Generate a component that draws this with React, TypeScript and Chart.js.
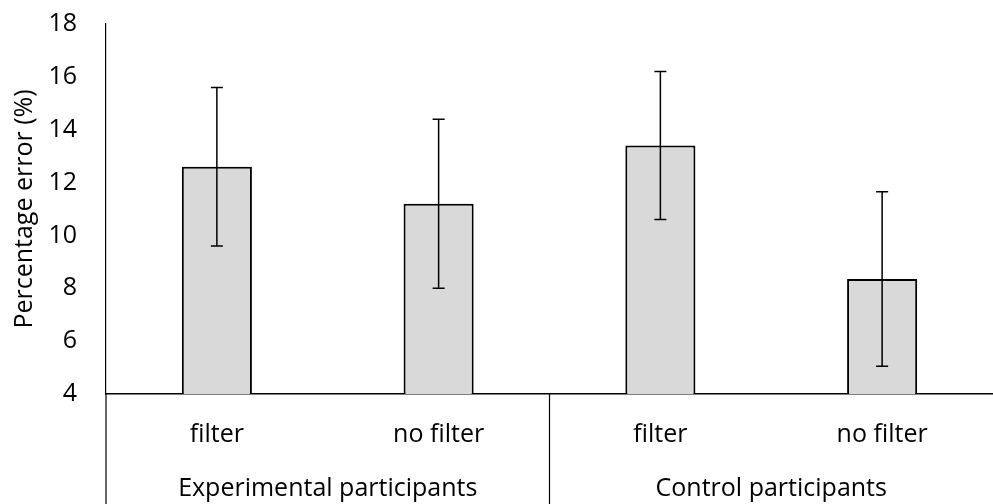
import React, { useEffect, useRef } from "react";
import { Chart, registerables } from "chart.js";

Chart.register(...registerables);

const categories = ["filter", "no filter", "filter", "no filter"];
const groups = ["Experimental participants", "Control participants"];
const groupSizes = [2, 2];
const meanValues = [12.6, 11.2, 13.4, 8.35];
const errorValues = [3.0, 3.2, 2.8, 3.3];
const yTicks = [4, 6, 8, 10, 12, 14, 16, 18];

const FONT = "'Open Sans', Lato, sans-serif";
const FONT_SIZE = 25;

const errorBarPlugin = {
  id: "errorBars",
  afterDatasetsDraw(chart: any) {
    const { ctx } = chart;
    const meta = chart.getDatasetMeta(0);
    const y = chart.scales.y;
    ctx.save();
    ctx.strokeStyle = "#000";
    ctx.lineWidth = 1.5;
    meta.data.forEach((bar: any, i: number) => {
      const x = bar.x;
      const top = y.getPixelForValue(meanValues[i] + errorValues[i]);
      const bot = y.getPixelForValue(meanValues[i] - errorValues[i]);
      ctx.beginPath();
      ctx.moveTo(x, top);
      ctx.lineTo(x, bot);
      ctx.moveTo(x - 6, top);
      ctx.lineTo(x + 6, top);
      ctx.moveTo(x - 6, bot);
      ctx.lineTo(x + 6, bot);
      ctx.stroke();
    });
    ctx.restore();
  },
};

const groupAxisPlugin = {
  id: "groupAxis",
  afterDraw(chart: any) {
    const { ctx, chartArea } = chart;
    const xs = chart.scales.x;
    const bottom = chart.height;
    ctx.save();
    ctx.strokeStyle = "#000";
    ctx.lineWidth = 1.2;
    ctx.fillStyle = "#000";
    ctx.font = `${FONT_SIZE}px ${FONT}`;
    ctx.textAlign = "center";
    ctx.textBaseline = "middle";
    let start = 0;
    const half = (xs.getPixelForValue(1) - xs.getPixelForValue(0)) / 2;
    ctx.beginPath();
    ctx.moveTo(chartArea.left, chartArea.bottom);
    ctx.lineTo(chartArea.left, bottom);
    ctx.stroke();
    groups.forEach((g, gi) => {
      const end = start + groupSizes[gi] - 1;
      const x0 = xs.getPixelForValue(start) - half;
      const x1 = xs.getPixelForValue(end) + half;
      ctx.fillText(g, (x0 + x1) / 2, chartArea.bottom + 95);
      if (gi < groups.length - 1) {
        ctx.beginPath();
        ctx.moveTo(x1, chartArea.bottom);
        ctx.lineTo(x1, bottom);
        ctx.stroke();
      }
      start = end + 1;
    });
    ctx.restore();
  },
};

export default function App() {
  const canvasRef = useRef<HTMLCanvasElement | null>(null);

  useEffect(() => {
    document.body.style.margin = "0";
    const canvas = canvasRef.current;
    if (!canvas) return;
    const chart = new Chart(canvas, {
      type: "bar",
      data: {
        labels: categories,
        datasets: [
          {
            data: meanValues,
            backgroundColor: "#d9d9d9",
            borderColor: "#000",
            borderWidth: 2,
            categoryPercentage: 1,
            barPercentage: 0.316,
          },
        ],
      },
      options: {
        responsive: false,
        animation: false,
        devicePixelRatio: 1,
        layout: { padding: { top: 24, right: 0, left: 0, bottom: 0 } },
        plugins: {
          legend: { display: false },
          tooltip: { enabled: false },
        },
        scales: {
          x: {
            grid: { display: false },
            border: { display: true, color: "#000", width: 1.5 },
            ticks: {
              color: "#000",
              font: { family: FONT, size: FONT_SIZE },
              padding: 18,
              maxRotation: 0,
            },
            afterFit: (scale: any) => {
              scale.height = 110;
              scale.paddingLeft = 0;
              scale.paddingRight = 0;
            },
          },
          y: {
            min: 4,
            max: 18,
            afterBuildTicks: (scale: any) => {
              scale.ticks = yTicks.map((v) => ({ value: v }));
            },
            grid: { display: false },
            border: { display: true, color: "#000", width: 1.2 },
            ticks: {
              color: "#000",
              font: { family: FONT, size: FONT_SIZE },
              padding: 21,
            },
            title: {
              display: true,
              text: "Percentage error (%)",
              color: "#000",
              font: { family: FONT, size: FONT_SIZE },
              padding: { top: 10, bottom: 0 },
            },
            afterFit: (scale: any) => {
              scale.width = 106;
              scale.paddingTop = 0;
              scale.paddingBottom = 0;
            },
          },
        },
      },
      plugins: [errorBarPlugin, groupAxisPlugin],
    });
    return () => chart.destroy();
  }, []);

  return (
    <div style={{ width: 993, height: 504 }}>
      <canvas ref={canvasRef} width={993} height={504} />
    </div>
  );
}
